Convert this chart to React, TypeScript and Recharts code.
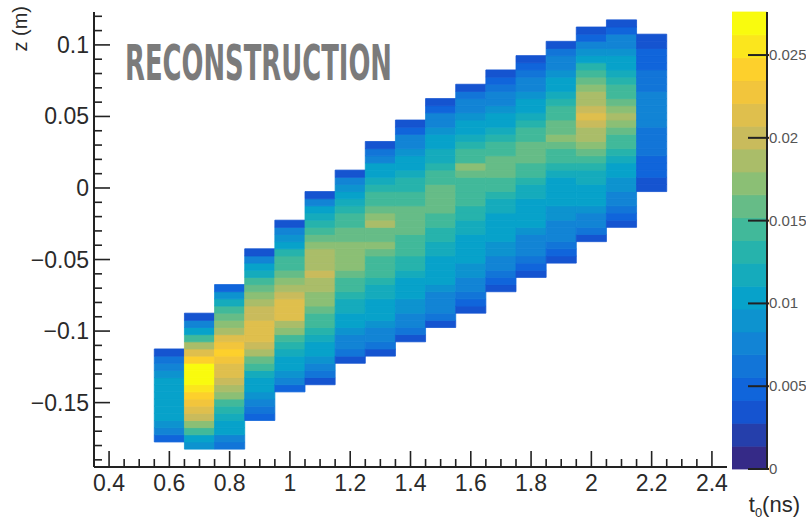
import { ComposedChart, XAxis, YAxis, ReferenceArea, Scatter } from 'recharts'

// t0 bin centres (ns), bins are 0.1 ns wide
const T_CENTRES = [0.6, 0.7, 0.8, 0.9, 1.0, 1.1, 1.2, 1.3, 1.4, 1.5, 1.6, 1.7, 1.8, 1.9, 2.0, 2.1, 2.2]
// z centre of the lowest filled bin of each column (m), bins are 0.005 m high
const Z_FIRST = [-0.175, -0.18, -0.18, -0.16, -0.14, -0.135, -0.12, -0.115, -0.105, -0.095, -0.085, -0.07, -0.06, -0.05, -0.035, -0.025, 0]

// bin contents per column, bottom to top
const COL_06 = [0.005, 0.007, 0.009, 0.010, 0.010, 0.011, 0.011, 0.011, 0.010, 0.009, 0.008, 0.006, 0.004]
const COL_07 = [0.009, 0.011, 0.014, 0.017, 0.020, 0.022, 0.023, 0.024, 0.025, 0.027, 0.028, 0.027, 0.024, 0.022, 0.019, 0.015, 0.011, 0.007, 0.004]
const COL_08 = [0.006, 0.008, 0.010, 0.011, 0.012, 0.013, 0.015, 0.017, 0.019, 0.020, 0.021, 0.022, 0.023, 0.024, 0.023, 0.021, 0.019, 0.017, 0.016, 0.014, 0.012, 0.009, 0.005]
const COL_09 = [0.005, 0.006, 0.007, 0.009, 0.010, 0.011, 0.012, 0.014, 0.016, 0.018, 0.020, 0.021, 0.021, 0.021, 0.020, 0.020, 0.018, 0.017, 0.016, 0.014, 0.012, 0.010, 0.007, 0.004]
const COL_10 = [0.005, 0.007, 0.009, 0.010, 0.011, 0.012, 0.013, 0.015, 0.017, 0.019, 0.021, 0.021, 0.021, 0.020, 0.018, 0.017, 0.016, 0.015, 0.014, 0.013, 0.011, 0.009, 0.007, 0.004]
const COL_11 = [0.004, 0.006, 0.008, 0.009, 0.010, 0.011, 0.012, 0.013, 0.014, 0.015, 0.016, 0.017, 0.017, 0.018, 0.019, 0.020, 0.018, 0.019, 0.018, 0.017, 0.016, 0.015, 0.013, 0.012, 0.010, 0.007, 0.004]
const COL_12 = [0.004, 0.006, 0.007, 0.008, 0.009, 0.010, 0.011, 0.012, 0.012, 0.013, 0.014, 0.015, 0.016, 0.017, 0.017, 0.017, 0.017, 0.016, 0.016, 0.015, 0.014, 0.013, 0.012, 0.010, 0.009, 0.007, 0.004]
const COL_13 = [0.004, 0.006, 0.007, 0.008, 0.009, 0.010, 0.010, 0.011, 0.012, 0.012, 0.013, 0.014, 0.015, 0.015, 0.016, 0.017, 0.016, 0.016, 0.018, 0.017, 0.016, 0.015, 0.014, 0.013, 0.012, 0.011, 0.010, 0.008, 0.006, 0.004]
const COL_14 = [0.004, 0.006, 0.007, 0.008, 0.009, 0.009, 0.010, 0.011, 0.011, 0.012, 0.013, 0.013, 0.014, 0.015, 0.015, 0.016, 0.016, 0.016, 0.016, 0.015, 0.014, 0.013, 0.013, 0.012, 0.011, 0.010, 0.009, 0.008, 0.007, 0.005, 0.004]
const COL_15 = [0.004, 0.006, 0.007, 0.008, 0.008, 0.009, 0.010, 0.010, 0.011, 0.011, 0.012, 0.012, 0.013, 0.013, 0.014, 0.015, 0.016, 0.016, 0.016, 0.016, 0.015, 0.014, 0.013, 0.012, 0.012, 0.011, 0.010, 0.009, 0.008, 0.007, 0.005, 0.004]
const COL_16 = [0.004, 0.005, 0.006, 0.007, 0.008, 0.009, 0.009, 0.010, 0.010, 0.011, 0.011, 0.012, 0.012, 0.013, 0.013, 0.014, 0.014, 0.014, 0.015, 0.016, 0.017, 0.015, 0.014, 0.013, 0.012, 0.011, 0.010, 0.009, 0.008, 0.007, 0.006, 0.004]
const COL_17 = [0.004, 0.005, 0.006, 0.007, 0.008, 0.009, 0.009, 0.010, 0.010, 0.011, 0.011, 0.012, 0.012, 0.013, 0.014, 0.015, 0.016, 0.016, 0.016, 0.015, 0.014, 0.013, 0.012, 0.011, 0.010, 0.009, 0.008, 0.007, 0.006, 0.005, 0.004]
const COL_18 = [0.004, 0.005, 0.006, 0.007, 0.008, 0.008, 0.009, 0.010, 0.010, 0.011, 0.011, 0.012, 0.012, 0.013, 0.014, 0.015, 0.016, 0.016, 0.016, 0.015, 0.014, 0.013, 0.012, 0.011, 0.010, 0.009, 0.008, 0.007, 0.006, 0.005, 0.004]
const COL_19 = [0.004, 0.005, 0.006, 0.007, 0.007, 0.008, 0.009, 0.009, 0.010, 0.010, 0.011, 0.011, 0.012, 0.013, 0.014, 0.015, 0.016, 0.017, 0.016, 0.016, 0.015, 0.014, 0.013, 0.012, 0.011, 0.010, 0.009, 0.008, 0.007, 0.006, 0.004]
const COL_20 = [0.004, 0.006, 0.007, 0.008, 0.009, 0.010, 0.010, 0.011, 0.012, 0.012, 0.013, 0.014, 0.016, 0.017, 0.018, 0.019, 0.020, 0.022, 0.020, 0.019, 0.018, 0.017, 0.016, 0.015, 0.013, 0.011, 0.009, 0.007, 0.005, 0.004]
const COL_21 = [0.004, 0.005, 0.006, 0.007, 0.008, 0.009, 0.009, 0.010, 0.011, 0.012, 0.013, 0.014, 0.015, 0.016, 0.017, 0.019, 0.017, 0.016, 0.015, 0.014, 0.013, 0.012, 0.011, 0.010, 0.009, 0.008, 0.007, 0.005, 0.004]
const COL_22 = [0.004, 0.004, 0.005, 0.005, 0.005, 0.006, 0.006, 0.006, 0.006, 0.007, 0.007, 0.007, 0.007, 0.007, 0.006, 0.006, 0.006, 0.005, 0.005, 0.005, 0.004, 0.004]

const COLUMNS = [COL_06, COL_07, COL_08, COL_09, COL_10, COL_11, COL_12, COL_13, COL_14, COL_15, COL_16, COL_17, COL_18, COL_19, COL_20, COL_21, COL_22]

const T_BIN = 0.1
const Z_BIN = 0.005
const Z_MAX = 0.0276
const N_LEVELS = 20

const X_TICKS = [0.4, 0.45, 0.5, 0.55, 0.6, 0.65, 0.7, 0.75, 0.8, 0.85, 0.9, 0.95, 1, 1.05, 1.1, 1.15, 1.2, 1.25, 1.3, 1.35, 1.4, 1.45, 1.5, 1.55, 1.6, 1.65, 1.7, 1.75, 1.8, 1.85, 1.9, 1.95, 2, 2.05, 2.1, 2.15, 2.2, 2.25, 2.3, 2.35, 2.4]
const X_LABELLED = [0.4, 0.6, 0.8, 1, 1.2, 1.4, 1.6, 1.8, 2, 2.2, 2.4]
const Y_TICKS = [-0.19, -0.18, -0.17, -0.16, -0.15, -0.14, -0.13, -0.12, -0.11, -0.1, -0.09, -0.08, -0.07, -0.06, -0.05, -0.04, -0.03, -0.02, -0.01, 0, 0.01, 0.02, 0.03, 0.04, 0.05, 0.06, 0.07, 0.08, 0.09, 0.1, 0.11, 0.12]
const Y_LABELLED = [-0.15, -0.1, -0.05, 0, 0.05, 0.1]
const CB_TICKS = [0, 0.005, 0.01, 0.015, 0.02, 0.025]

// ROOT kBird palette
const BIRD_STOPS = [0, 0.125, 0.25, 0.375, 0.5, 0.625, 0.75, 0.875, 1]
const BIRD_R = [0.2082, 0.0592, 0.078, 0.0232, 0.1802, 0.5301, 0.8186, 0.9956, 0.9764]
const BIRD_G = [0.1664, 0.3599, 0.5041, 0.6419, 0.7178, 0.7492, 0.7328, 0.7862, 0.9832]
const BIRD_B = [0.5293, 0.8684, 0.8385, 0.7914, 0.6425, 0.4662, 0.3499, 0.1968, 0.0539]

function bird(f: number) {
  let i = 0
  while (i < BIRD_STOPS.length - 2 && f > BIRD_STOPS[i + 1]) i++
  const t = (f - BIRD_STOPS[i]) / (BIRD_STOPS[i + 1] - BIRD_STOPS[i])
  const mix = (a: number[]) => Math.round(255 * (a[i] + (a[i + 1] - a[i]) * t))
  return `rgb(${mix(BIRD_R)},${mix(BIRD_G)},${mix(BIRD_B)})`
}

function levelColor(level: number) {
  return bird(level / (N_LEVELS - 1))
}

function valueColor(v: number) {
  const level = Math.min(N_LEVELS - 1, Math.floor((v / Z_MAX) * N_LEVELS))
  return levelColor(level)
}

const cells = COLUMNS.flatMap((col, i) =>
  col.map((v, j) => ({
    t: T_CENTRES[i],
    z: Math.round((Z_FIRST[i] + j * Z_BIN) * 10000) / 10000,
    v,
  }))
)

const bands = Array.from({ length: N_LEVELS }, (_, k) => ({
  level: k,
  lo: (k * Z_MAX) / N_LEVELS,
  hi: ((k + 1) * Z_MAX) / N_LEVELS,
  mid: ((k + 0.5) * Z_MAX) / N_LEVELS,
  x: 0.5,
}))

const near = (list: number[], v: number) => list.some((m) => Math.abs(m - v) < 1e-6)
const fmt = (v: number) => (v < 0 ? '\u2212' + String(-v) : String(v))

const tickFont = "'Liberation Sans', Arial, Helvetica, sans-serif"

function XTick({ x, y, payload }: any) {
  const major = near(X_LABELLED, payload.value)
  return (
    <g>
      <line x1={x} x2={x} y1={y} y2={y - (major ? 16 : 8)} stroke="#222" strokeWidth={1.6} />
      {major && (
        <text x={x} y={y + 24} textAnchor="middle" fontFamily={tickFont} fontSize={23} fill="#2a2a2a">
          {fmt(payload.value)}
        </text>
      )}
    </g>
  )
}

function YTick({ x, y, payload }: any) {
  const major = near(Y_LABELLED, payload.value)
  return (
    <g>
      <line x1={x} x2={x + (major ? 16 : 8)} y1={y} y2={y} stroke="#222" strokeWidth={1.6} />
      {major && (
        <text x={x - 5} y={y + 8} textAnchor="end" fontFamily={tickFont} fontSize={23} fill="#2a2a2a">
          {fmt(payload.value)}
        </text>
      )}
    </g>
  )
}

function CbTick({ x, y, payload }: any) {
  return (
    <g>
      <line x1={x - 19} x2={x + 2} y1={y} y2={y} stroke="#222" strokeWidth={2} />
      <text x={x + 2} y={y + 5} fontFamily={tickFont} fontSize={15} fill="#555">
        {String(payload.value)}
      </text>
    </g>
  )
}

export default function App() {
  return (
    <div style={{ position: 'absolute', left: 0, top: 0, width: 806, height: 526, overflow: 'hidden', background: '#fff' }}>
      <div style={{ position: 'absolute', left: 0, top: 0 }}>
        <ComposedChart width={806} height={526} data={cells} margin={{ top: 12, right: 79, bottom: 19, left: 0 }}>
          <XAxis
            dataKey="t"
            type="number"
            domain={[0.35, 2.45]}
            ticks={X_TICKS}
            interval={0}
            height={40}
            tickSize={0}
            tickMargin={0}
            tickLine={false}
            tick={XTick}
            axisLine={{ stroke: '#222', strokeWidth: 2 }}
            allowDataOverflow
          />
          <XAxis xAxisId="top" orientation="top" type="number" domain={[0.35, 2.45]} height={0} tick={false} tickLine={false} axisLine={{ stroke: '#333', strokeWidth: 1.5 }} />
          <YAxis
            dataKey="z"
            type="number"
            domain={[-0.195, 0.123]}
            ticks={Y_TICKS}
            interval={0}
            width={94}
            tickSize={0}
            tickMargin={0}
            tickLine={false}
            tick={YTick}
            axisLine={{ stroke: '#222', strokeWidth: 2 }}
            allowDataOverflow
          />
          <YAxis yAxisId="right" orientation="right" type="number" domain={[-0.195, 0.123]} width={0} tick={false} tickLine={false} axisLine={{ stroke: '#333', strokeWidth: 1.5 }} />
          {cells.map((c, k) => (
            <ReferenceArea
              key={k}
              x1={c.t - T_BIN / 2}
              x2={c.t + T_BIN / 2}
              y1={c.z - Z_BIN / 2}
              y2={c.z + Z_BIN / 2}
              fill={valueColor(c.v)}
              fillOpacity={1}
              stroke={valueColor(c.v)}
              strokeWidth={0.8}
              ifOverflow="visible"
            />
          ))}
          <Scatter dataKey="z" fill="none" shape={() => <g />} isAnimationActive={false} />
        </ComposedChart>
      </div>

      <div style={{ position: 'absolute', left: 732, top: 0 }}>
        <ComposedChart width={74} height={526} data={bands} margin={{ top: 12, right: 0, bottom: 57, left: 0 }}>
          <XAxis dataKey="x" type="number" domain={[0, 1]} hide />
          <YAxis
            dataKey="mid"
            orientation="right"
            type="number"
            domain={[0, Z_MAX]}
            ticks={CB_TICKS}
            interval={0}
            width={39}
            tickSize={0}
            tickMargin={0}
            tickLine={false}
            tick={CbTick}
            axisLine={{ stroke: '#222', strokeWidth: 2 }}
            allowDataOverflow
          />
          {bands.map((b) => (
            <ReferenceArea
              key={b.level}
              x1={0}
              x2={1}
              y1={b.lo}
              y2={b.hi}
              fill={levelColor(b.level)}
              fillOpacity={1}
              stroke={levelColor(b.level)}
              strokeWidth={0.8}
              ifOverflow="visible"
            />
          ))}
          <Scatter dataKey="mid" fill="none" shape={() => <g />} isAnimationActive={false} />
        </ComposedChart>
      </div>

      <svg width={806} height={526} style={{ position: 'absolute', left: 0, top: 0, pointerEvents: 'none' }}>
        <text
          x={125}
          y={80}
          textLength={267}
          lengthAdjust="spacingAndGlyphs"
          fontFamily="'Liberation Sans Narrow', 'DejaVu Sans Condensed', 'Liberation Sans', sans-serif"
          fontWeight="bold"
          fontSize={50}
          fill="#7b7b7b"
        >
          RECONSTRUCTION
        </text>
        <text transform="translate(27,6) rotate(-90)" textAnchor="end" fontFamily={tickFont} fontSize={20} fill="#2a2a2a">
          z (m)
        </text>
        <text x={800} y={512} textAnchor="end" fontFamily={tickFont} fontSize={22} fill="#2a2a2a">
          t<tspan fontSize={13} dy={5}>0</tspan>
          <tspan dy={-5}>(ns)</tspan>
        </text>
      </svg>
    </div>
  )
}
